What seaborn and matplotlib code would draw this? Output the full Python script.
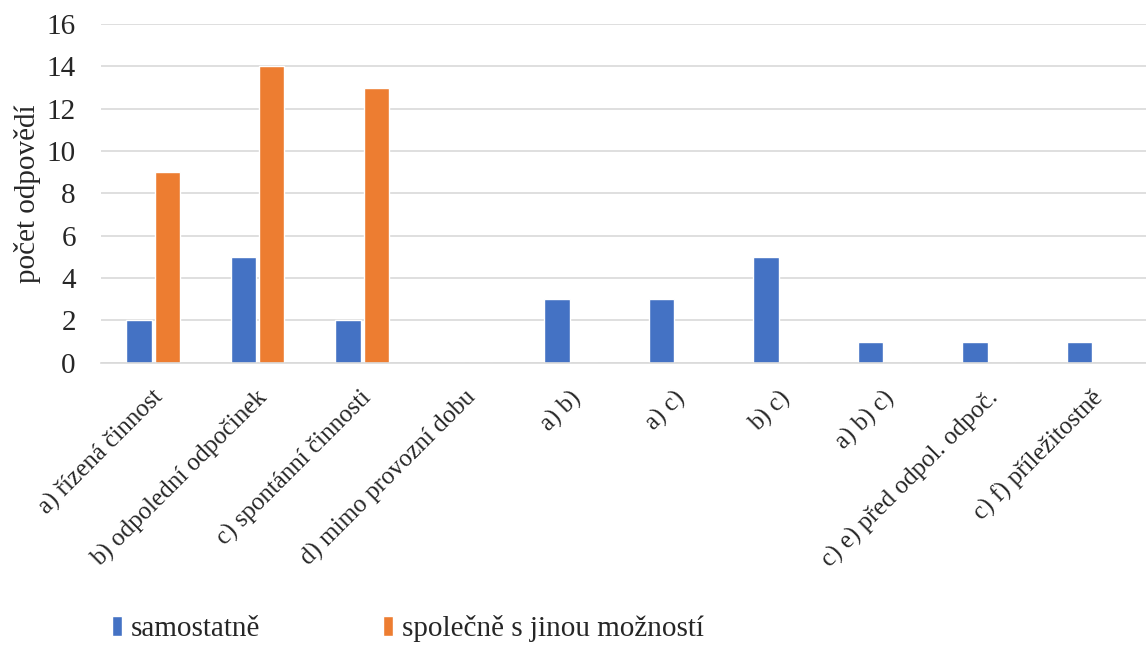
import pandas as pd
import seaborn as sns
import matplotlib.pyplot as plt
import matplotlib.transforms as mtransforms

# kategorie odpovědí a počty
kategorie = ['a) řízená činnost', 'b) odpolední odpočinek', 'c) spontánní činnosti',
             'd) mimo provozní dobu', 'a) b)', 'a) c)', 'b) c)', 'a) b) c)',
             'c) e) před odpol. odpoč.', 'c) f) příležitostně']
samostatne = [2, 5, 2, 0, 3, 3, 5, 1, 1, 1]
spolecne = [9, 14, 13, 0, 0, 0, 0, 0, 0, 0]
serie = ['samostatně', 'společně s jinou možností']

df = pd.DataFrame({
    'kategorie': kategorie * 2,
    'pocet': samostatne + spolecne,
    'serie': [serie[0]] * len(kategorie) + [serie[1]] * len(kategorie),
})

sns.set_style('white')
plt.rcParams['font.family'] = ['Liberation Serif', 'DejaVu Serif']

fig, ax = plt.subplots(figsize=(11.46, 6.5), dpi=100)
fig.subplots_adjust(left=0.088, right=1.0, top=0.963, bottom=0.442)

sns.barplot(data=df, x='kategorie', y='pocet', hue='serie',
            palette=['#4472C4', '#ED7D31'], width=0.54, gap=0.1,
            saturation=1, ax=ax)

ax.set_ylim(0, 16)
ax.set_yticks(range(0, 17, 2))
ax.yaxis.grid(True, color='#d9d9d9', linewidth=1.2)
ax.set_axisbelow(True)
for s in ['left', 'right', 'top']:
    ax.spines[s].set_visible(False)
ax.spines['bottom'].set_color('#d9d9d9')
ax.spines['bottom'].set_linewidth(1.2)
ax.tick_params(axis='both', length=0)
ax.tick_params(axis='y', labelsize=21, pad=18)
ax.tick_params(axis='x', pad=17)
ax.set_xticks(range(len(kategorie)))
ax.set_xticklabels(kategorie, rotation=45, ha='right', rotation_mode='anchor', fontsize=18)
posun = mtransforms.ScaledTranslation(-2 / 100, 0, fig.dpi_scale_trans)
for t in ax.get_xticklabels():
    t.set_transform(t.get_transform() + posun)
ax.set_xlabel('')
ax.set_ylabel('počet odpovědí', fontsize=21, labelpad=4)

ax.get_legend().remove()
handles, labels = ax.get_legend_handles_labels()
fig.legend(handles, labels, loc='lower left', bbox_to_anchor=(0.075, -0.028), ncol=2,
           frameon=False, fontsize=21, handlelength=0.35, handleheight=0.7,
           handletextpad=0.3, columnspacing=4.2)

plt.savefig('out.png', dpi=100)
